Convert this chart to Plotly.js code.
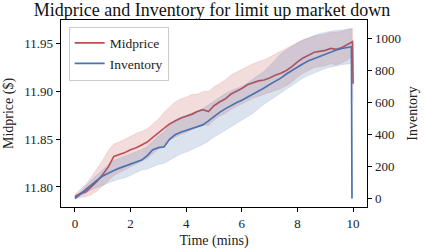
<!DOCTYPE html>
<html>
<head>
<meta charset="utf-8">
<script src="https://cdn.plot.ly/plotly-3.0.1.min.js"></script>
<style>html,body{margin:0;padding:0;background:#fff;}#chart{width:424px;height:249px;}</style>
</head>
<body>
<div id="chart"></div>
<script>
const time = [0,0.2,0.4,0.6,0.8,1.0,1.2,1.4,1.6,1.8,2.0,2.2,2.4,2.6,2.8,3.0,3.2,3.4,3.6,3.8,4.0,4.2,4.4,4.6,4.8,5.0,5.2,5.4,5.6,5.8,6.0,6.2,6.4,6.6,6.8,7.0,7.2,7.4,7.6,7.8,8.0,8.2,8.4,8.6,8.8,9.0,9.2,9.4,9.6,9.8,9.98,10];
const invTime = [0,0.2,0.4,0.6,0.8,1.0,1.2,1.4,1.6,1.8,2.0,2.2,2.4,2.6,2.8,3.0,3.2,3.4,3.6,3.8,4.0,4.2,4.4,4.6,4.8,5.0,5.2,5.4,5.6,5.8,6.0,6.2,6.4,6.6,6.8,7.0,7.2,7.4,7.6,7.8,8.0,8.2,8.4,8.6,8.8,9.0,9.2,9.4,9.6,9.8,9.94,9.96];
const midprice = [11.790,11.793,11.795,11.800,11.806,11.813,11.821,11.832,11.834,11.836,11.839,11.841,11.844,11.847,11.852,11.857,11.861,11.866,11.869,11.872,11.874,11.876,11.879,11.881,11.879,11.885,11.889,11.892,11.897,11.900,11.903,11.907,11.909,11.911,11.912,11.914,11.917,11.919,11.922,11.926,11.931,11.935,11.938,11.941,11.942,11.943,11.945,11.944,11.946,11.949,11.952,11.908];
const midUpper = [11.792,11.797,11.803,11.811,11.819,11.828,11.838,11.845,11.847,11.850,11.853,11.856,11.858,11.861,11.866,11.871,11.878,11.884,11.889,11.892,11.894,11.897,11.897,11.900,11.900,11.905,11.908,11.912,11.917,11.920,11.923,11.926,11.929,11.931,11.933,11.936,11.939,11.942,11.945,11.948,11.951,11.954,11.956,11.958,11.959,11.960,11.962,11.962,11.963,11.965,11.966,11.928];
const midLower = [11.788,11.789,11.790,11.792,11.796,11.801,11.806,11.812,11.815,11.818,11.821,11.824,11.827,11.830,11.835,11.840,11.844,11.849,11.852,11.855,11.857,11.860,11.863,11.866,11.864,11.870,11.874,11.877,11.881,11.884,11.887,11.890,11.893,11.895,11.897,11.899,11.901,11.903,11.906,11.910,11.915,11.919,11.922,11.925,11.926,11.927,11.929,11.928,11.930,11.933,11.937,11.890];
const inventory = [0,30,55,85,115,140,160,175,190,203,215,228,240,268,305,318,322,370,398,414,425,436,446,460,485,512,538,560,580,598,614,632,650,668,690,712,730,752,778,800,822,842,860,874,886,900,915,928,937,945,948,0];
const invUpper = [5,45,80,115,150,180,210,236,252,265,280,295,305,325,360,390,415,460,490,508,520,535,545,560,585,610,633,655,672,688,700,722,745,768,795,830,868,902,928,952,972,990,1005,1020,1030,1038,1045,1050,1053,1058,1062,0];
const invLower = [0,15,35,55,70,80,95,111,122,130,145,160,178,185,200,213,220,240,262,278,290,305,325,338,360,385,404,425,450,472,492,512,532,560,590,612,635,660,685,708,730,752,770,785,800,812,822,830,836,840,843,0];
const xTicks = [0,2,4,6,8,10];
const yTicks = [11.80,11.85,11.90,11.95];
const y2Ticks = [0,200,400,600,800,1000];

const RED = '#c44e52', BLUE = '#4c72b0';
const FONT = 'Liberation Serif, Times New Roman, serif';

const traces = [
  {x: time, y: midLower, yaxis: 'y', mode: 'lines', line: {width: 0.6, color: 'rgba(196,78,82,0.25)'}, showlegend: false, hoverinfo: 'skip'},
  {x: time, y: midUpper, yaxis: 'y', mode: 'lines', fill: 'tonexty', fillcolor: 'rgba(196,78,82,0.2)', line: {width: 0.6, color: 'rgba(196,78,82,0.25)'}, showlegend: false, hoverinfo: 'skip'},
  {x: time, y: midprice, yaxis: 'y', mode: 'lines', name: 'Midprice', line: {width: 1.7, color: RED}},
  {x: invTime, y: invLower, yaxis: 'y2', mode: 'lines', line: {width: 0.6, color: 'rgba(76,114,176,0.25)'}, showlegend: false, hoverinfo: 'skip'},
  {x: invTime, y: invUpper, yaxis: 'y2', mode: 'lines', fill: 'tonexty', fillcolor: 'rgba(76,114,176,0.2)', line: {width: 0.6, color: 'rgba(76,114,176,0.25)'}, showlegend: false, hoverinfo: 'skip'},
  {x: invTime, y: inventory, yaxis: 'y2', mode: 'lines', name: 'Inventory', line: {width: 1.7, color: BLUE}}
];

const axisCommon = {
  showgrid: false, zeroline: false, showline: true, linecolor: '#000', linewidth: 1.3,
  ticks: 'outside', ticklen: 4, tickwidth: 1.1, tickcolor: '#000',
  tickfont: {family: FONT, size: 13, color: '#222'}
};

const layout = {
  width: 424, height: 249,
  margin: {l: 61, r: 57, t: 20, b: 42},
  paper_bgcolor: '#fff', plot_bgcolor: '#fff',
  font: {family: FONT, color: '#222'},
  title: {text: 'Midprice and Inventory for limit up market down', font: {family: FONT, size: 18, color: '#111'}, x: 0.5, xanchor: 'center', y: 0.962, yanchor: 'middle'},
  xaxis: Object.assign({}, axisCommon, {range: [-0.5, 10.5], tickvals: xTicks, mirror: true,
    title: {text: 'Time (mins)', font: {family: FONT, size: 14, color: '#222'}, standoff: 5}}),
  yaxis: Object.assign({}, axisCommon, {range: [11.779, 11.9748], tickvals: yTicks, tickformat: '.2f',
    title: {text: 'Midprice ($)', font: {family: FONT, size: 14, color: '#222'}, standoff: 7}}),
  yaxis2: Object.assign({}, axisCommon, {range: [-53, 1115], tickvals: y2Ticks, overlaying: 'y', side: 'right',
    title: {text: 'Inventory', font: {family: FONT, size: 14, color: '#222'}, standoff: 7}}),
  legend: {x: 0.025, y: 0.965, xanchor: 'left', yanchor: 'top', bgcolor: 'rgba(255,255,255,0.85)',
    bordercolor: '#ccc', borderwidth: 1, font: {family: FONT, size: 13.5, color: '#222'},
    itemwidth: 30, traceorder: 'normal', tracegroupgap: 0}
};

Plotly.newPlot('chart', traces, layout, {staticPlot: true, displayModeBar: false});
</script>
</body>
</html>
